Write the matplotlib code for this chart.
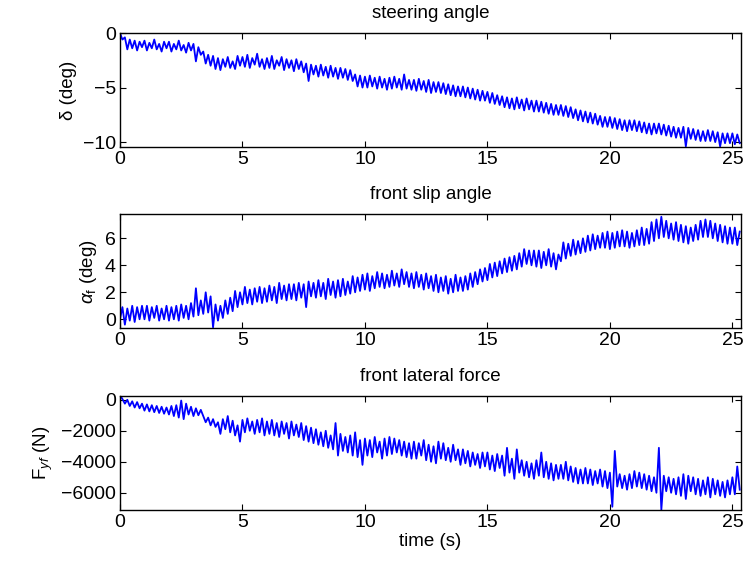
import matplotlib

matplotlib.use("Agg")
import matplotlib.pyplot as plt
import numpy as np

# sample times (s), 0.1 s spacing
time_s = np.round(np.arange(254) * 0.1, 1)

# steering angle delta (deg)
delta_deg = np.array([
    0.0, -0.6, -0.4, -1.5, -0.6, -1.4, -0.7, -1.6, -0.8, -1.3,
    -0.7, -1.6, -0.9, -1.4, -0.6, -1.5, -1.0, -1.7, -0.8, -1.4,
    -0.8, -1.7, -1.0, -1.5, -0.7, -1.6, -1.1, -1.8, -0.9, -1.6,
    -1.0, -2.6, -1.3, -2.0, -1.7, -2.8, -2.0, -3.0, -2.1, -3.3,
    -2.3, -3.4, -2.4, -3.1, -2.2, -3.2, -2.6, -3.3, -2.1, -3.0,
    -2.2, -3.1, -2.0, -3.2, -2.3, -2.9, -1.9, -3.1, -2.4, -3.3,
    -2.3, -3.2, -2.1, -3.3, -2.5, -3.0, -2.2, -3.4, -2.4, -3.2,
    -2.5, -3.5, -2.4, -3.3, -2.6, -3.6, -2.8, -4.4, -2.9, -3.8,
    -3.0, -4.0, -2.9, -3.9, -3.1, -4.1, -3.0, -4.0, -3.2, -4.2,
    -3.2, -4.1, -3.3, -4.3, -3.4, -4.4, -3.8, -4.9, -3.9, -5.0,
    -4.0, -5.0, -3.9, -4.9, -4.1, -5.1, -4.0, -5.0, -4.2, -5.2,
    -4.1, -5.1, -4.0, -5.0, -4.2, -5.2, -3.8, -5.1, -4.3, -5.2,
    -4.3, -5.3, -4.2, -5.2, -4.4, -5.4, -4.3, -5.5, -4.5, -5.4,
    -4.5, -5.5, -4.6, -5.6, -4.7, -5.7, -4.8, -5.8, -4.9, -5.8,
    -4.9, -5.9, -5.0, -6.0, -5.1, -6.1, -5.2, -6.2, -5.3, -6.2,
    -5.4, -6.4, -5.5, -6.5, -5.7, -6.6, -5.8, -6.8, -5.9, -6.9,
    -6.0, -7.0, -5.9, -6.9, -6.1, -7.1, -6.0, -7.0, -6.2, -7.2,
    -6.2, -7.2, -6.3, -7.3, -6.4, -7.4, -6.5, -7.5, -6.6, -7.5,
    -6.6, -7.6, -6.7, -7.7, -6.8, -7.8, -7.0, -8.0, -7.1, -8.1,
    -7.2, -8.2, -7.3, -8.3, -7.4, -8.4, -7.6, -8.6, -7.7, -8.6,
    -7.7, -8.7, -7.8, -8.8, -7.9, -8.9, -8.0, -9.0, -8.0, -8.9,
    -8.0, -9.0, -8.1, -9.1, -8.2, -9.2, -8.3, -9.3, -8.3, -9.2,
    -8.3, -9.3, -8.4, -9.4, -8.5, -9.5, -8.6, -9.6, -8.7, -9.6,
    -8.6, -10.4, -8.7, -9.7, -8.8, -9.8, -8.9, -9.9, -9.0, -9.9,
    -8.9, -9.9, -9.0, -10.0, -9.1, -10.4, -9.2, -10.1, -9.2, -10.1,
    -9.2, -10.2, -9.3, -10.1,
])

# front slip angle alpha_f (deg)
alpha_f_deg = np.array([
    0.0, 0.9, -0.4, 0.8, -0.1, 1.0, -0.2, 0.9, 0.0, 1.0,
    0.0, 1.0, -0.1, 0.9, 0.1, 1.0, -0.1, 0.8, 0.0, 1.0,
    -0.1, 0.9, 0.0, 1.0, -0.1, 1.1, 0.1, 1.0, 0.0, 1.2,
    0.2, 2.3, 0.3, 1.4, 0.4, 2.0, 0.5, 1.7, -0.6, 1.1,
    -0.1, 1.0, 0.1, 1.4, 0.4, 1.6, 0.6, 2.1, 0.9, 2.0,
    1.1, 2.4, 1.2, 2.2, 1.1, 2.3, 1.3, 2.4, 1.2, 2.3,
    1.3, 2.5, 1.4, 2.4, 1.2, 2.7, 1.5, 2.5, 1.4, 2.6,
    1.5, 2.6, 1.4, 2.7, 1.6, 2.6, 0.9, 2.8, 1.7, 2.7,
    1.6, 2.9, 1.7, 2.7, 1.5, 3.0, 1.8, 2.8, 1.6, 2.9,
    1.7, 3.0, 1.8, 2.8, 1.9, 3.2, 2.0, 3.1, 2.1, 3.3,
    2.2, 3.4, 2.1, 3.2, 2.3, 3.5, 2.4, 3.4, 2.3, 3.3,
    2.4, 3.6, 2.5, 3.4, 2.4, 3.7, 2.6, 3.5, 2.4, 3.4,
    2.3, 3.5, 2.4, 3.3, 2.2, 3.4, 2.3, 3.2, 2.1, 3.3,
    2.0, 3.1, 2.1, 3.2, 1.9, 3.0, 2.0, 3.3, 2.1, 3.1,
    2.1, 3.2, 2.2, 3.4, 2.4, 3.5, 2.6, 3.7, 2.8, 3.8,
    2.9, 4.1, 3.1, 4.2, 3.2, 4.3, 3.4, 4.5, 3.5, 4.6,
    3.6, 4.7, 3.7, 4.9, 3.9, 5.2, 4.1, 5.1, 4.0, 5.1,
    3.9, 5.1, 3.8, 5.0, 4.0, 5.2, 3.9, 4.9, 3.7, 4.8,
    4.3, 5.7, 4.5, 5.6, 4.7, 5.9, 4.8, 5.8, 4.9, 6.0,
    5.0, 6.2, 5.1, 6.3, 5.2, 6.2, 5.3, 6.4, 5.3, 6.5,
    5.2, 6.4, 5.3, 6.5, 5.4, 6.6, 5.4, 6.5, 5.3, 6.4,
    5.4, 6.6, 5.5, 6.8, 5.5, 6.7, 5.6, 7.2, 5.8, 7.4,
    6.0, 7.6, 6.1, 7.3, 6.0, 7.1, 5.9, 7.2, 5.8, 7.0,
    5.7, 6.9, 5.6, 6.8, 5.8, 7.0, 5.9, 7.3, 6.1, 7.4,
    6.1, 7.3, 6.0, 7.1, 5.8, 7.0, 5.7, 6.9, 5.6, 6.8,
    5.6, 6.8, 5.5, 6.5,
])

# front lateral force F_yf (N)
fyf_n = np.array([
    300, 50, -250, 0, -400, -100, -500, -150, -550, -250,
    -700, -300, -750, -350, -800, -400, -850, -450, -900, -500,
    -950, -400, -1050, -350, -1150, -50, -1250, -250, -950, -450,
    -1050, -550, -1000, -650, -1050, -1450, -1150, -1650, -1250, -1750,
    -1450, -2200, -1250, -1900, -1050, -2100, -1350, -2300, -1650, -2700,
    -1300, -2100, -1200, -2000, -1400, -2200, -1300, -2100, -1200, -2300,
    -1400, -2200, -1300, -2300, -1500, -2400, -1400, -2200, -1500, -2500,
    -1400, -2300, -1600, -2400, -1500, -2600, -1700, -2700, -1800, -2800,
    -1900, -2900, -2100, -3000, -2000, -3100, -2300, -3200, -1500, -3600,
    -2200, -3300, -2400, -3400, -2300, -3600, -2100, -3700, -2600, -4200,
    -2500, -3600, -2600, -3700, -2400, -3400, -2700, -3800, -2500, -3600,
    -2400, -3500, -2500, -3400, -2600, -3600, -2700, -3700, -2800, -3800,
    -2700, -3800, -2800, -3600, -2600, -3900, -2900, -4000, -3000, -4100,
    -2700, -3800, -2800, -3900, -3100, -4000, -2900, -3900, -3200, -4200,
    -3200, -4100, -3300, -4300, -3400, -4200, -3500, -4400, -3400, -4300,
    -3400, -4500, -3600, -4600, -3500, -4400, -3600, -4900, -3100, -4700,
    -3800, -5100, -3200, -4700, -3900, -4900, -4000, -5000, -4100, -5100,
    -3900, -4900, -3400, -5000, -4000, -5100, -4100, -5200, -4200, -5100,
    -4200, -5100, -4000, -5200, -4300, -5300, -4400, -5400, -4500, -5400,
    -4400, -5400, -4500, -5500, -4600, -5400, -4500, -5600, -4600, -5700,
    -4700, -6900, -3300, -5600, -4800, -5700, -4900, -5800, -4800, -5700,
    -4600, -5600, -4700, -5700, -4800, -5800, -4900, -5900, -5000, -6000,
    -3100, -7100, -4900, -5900, -5000, -6000, -5100, -6100, -5000, -6200,
    -4800, -6400, -4900, -5900, -5000, -6100, -5100, -6200, -5200, -6100,
    -5000, -6300, -5100, -6100, -5200, -6200, -5300, -6300, -5200, -6100,
    -5000, -6100, -4300, -5800,
])

plt.rcParams["font.family"] = ["Liberation Sans", "DejaVu Sans"]
plt.rcParams["mathtext.fontset"] = "custom"
plt.rcParams["mathtext.rm"] = "Liberation Sans"
plt.rcParams["mathtext.it"] = "Liberation Sans:italic"

fig = plt.figure(figsize=(7.47, 5.70), dpi=100)
left, width, height = 0.1606, 0.8313, 0.2
bottoms = [0.7421, 0.4240, 0.1053]

panels = [
    (delta_deg, "steering angle", "δ (deg)", (-10.45, 0), [-10, -5, 0]),
    (alpha_f_deg, "front slip angle", r"$\alpha_\mathrm{f}$ (deg)", (-0.67, 7.78), [0, 2, 4, 6]),
    (fyf_n, "front lateral force", r"F$_{yf}$ (N)", (-7110, 245), [-6000, -4000, -2000, 0]),
]

for (y, title, ylab, ylim, yticks), b in zip(panels, bottoms):
    ax = fig.add_axes([left, b, width, height])
    ax.plot(time_s, y, color="#0000ff", lw=1.3)
    ax.set_xlim(0, 25.35)
    ax.set_ylim(*ylim)
    ax.set_yticks(yticks)
    ax.set_xticks([0, 5, 10, 15, 20, 25])
    ax.set_yticklabels(["\u2212" + f"{-v}" if v < 0 else f"{v}" for v in yticks])
    ax.set_title(title, fontsize=13.5, pad=11)
    ax.set_ylabel(ylab, fontsize=13.5, labelpad=4)
    ax.tick_params(direction="in", length=4, width=0.8, labelsize=14,
                   top=True, right=True, pad=3)
    for s in ax.spines.values():
        s.set_linewidth(1.0)

ax.set_xlabel("time (s)", fontsize=13.5, labelpad=1)

fig.savefig("out.png", dpi=100)
